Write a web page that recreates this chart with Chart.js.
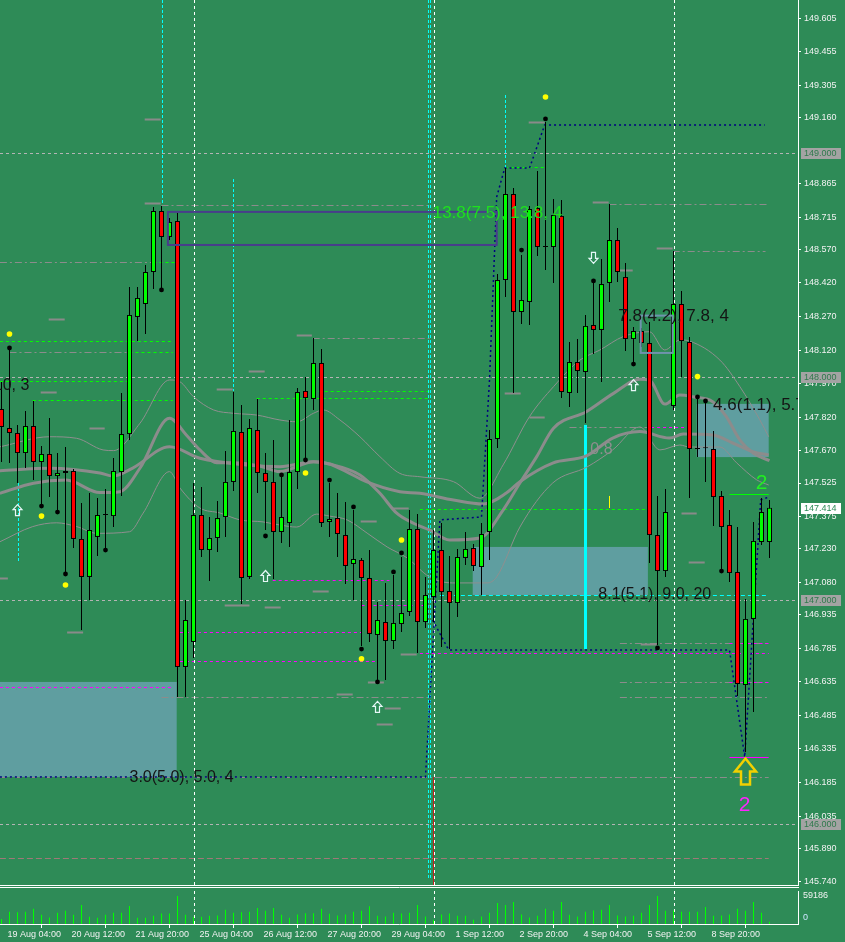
<!DOCTYPE html>
<html lang="en">
<head>
  <meta charset="UTF-8" />
  <title>H4 price chart</title>
  <script src="https://cdn.jsdelivr.net/npm/chart.js"></script>
  <style>
    body {
      margin: 0;
      background: #2e8b57;
      width: 845px;
      height: 942px;
      overflow: hidden;
      position: relative;
    }
    #pricePane { position: absolute; left: 0; top: 0; width: 845px; height: 888px; }
    #volumePane { position: absolute; left: 0; top: 888px; width: 845px; height: 54px; }
  </style>
</head>
<body>
  <div id="pricePane"><canvas id="priceChart"></canvas></div>
  <div id="volumePane"><canvas id="volumeChart"></canvas></div>

  <script>
    // H4 bars, bar 0 = 19 Aug 00:00, last bar = 10 Sep 00:00
    const opens = [147.856,147.771,147.749,147.659,147.780,147.619,147.655,147.556,147.570,147.579,
      147.275,147.105,147.284,147.382,147.377,147.574,147.744,148.268,148.326,148.469,
      148.742,148.626,148.697,146.702,146.814,147.382,147.225,147.279,147.373,147.530,
      147.753,147.105,147.762,147.570,147.530,147.306,147.346,147.574,147.937,147.901,
      148.062,147.351,147.368,147.292,147.163,147.181,147.100,146.845,146.903,146.818,
      146.894,146.948,147.319,146.903,147.015,147.225,147.042,146.988,147.190,147.234,
      147.149,147.306,147.722,148.433,148.818,148.290,148.335,148.755,148.585,148.581,
      148.720,147.928,148.066,148.022,148.232,148.210,148.420,148.612,148.447,148.169,
      148.205,148.151,147.292,147.131,147.870,148.326,148.156,147.682,147.682,147.677,
      147.467,147.337,147.127,146.621,146.917,147.261,147.261];
    const highs = [147.977,148.120,147.785,147.847,147.892,147.691,147.816,147.659,147.686,147.588,
      147.436,147.480,147.458,147.498,147.637,147.928,148.402,148.402,148.500,148.760,
      148.764,148.711,148.733,147.002,147.525,147.507,147.373,147.444,147.668,147.932,
      147.874,147.811,147.901,147.659,147.717,147.561,147.807,147.950,147.999,148.174,
      148.125,147.525,147.480,147.440,147.404,147.190,147.225,146.993,147.078,147.113,
      147.194,147.404,147.386,147.105,147.315,147.346,147.199,147.230,147.306,147.252,
      147.346,147.762,148.460,148.934,148.845,148.545,148.764,148.921,149.140,148.796,
      148.791,148.156,148.169,148.277,148.420,148.527,148.773,148.666,148.509,148.223,
      148.219,148.245,147.467,147.498,148.563,148.384,148.178,147.901,147.883,147.758,
      147.489,147.404,147.328,147.006,147.351,147.458,147.449];
    const lows = [147.619,147.615,147.525,147.592,147.539,147.427,147.462,147.404,147.127,147.234,
      146.867,147.002,147.199,147.234,147.328,147.467,147.717,148.160,148.192,148.393,
      148.398,148.612,146.568,146.568,146.742,147.194,147.087,147.216,147.284,147.489,
      146.984,147.096,147.480,147.315,147.096,147.257,147.239,147.498,147.637,147.852,
      147.328,147.284,147.194,147.073,147.002,146.796,146.814,146.644,146.644,146.782,
      146.858,146.930,146.765,146.876,146.903,146.791,146.782,146.926,147.158,147.131,
      147.024,147.181,147.682,148.357,147.928,148.236,148.232,148.541,148.478,148.420,
      147.905,147.865,147.928,147.794,148.102,147.977,148.335,148.424,148.116,148.066,
      148.134,147.167,146.800,147.105,147.852,147.999,147.458,147.641,147.530,147.333,
      147.136,147.082,146.572,146.322,146.501,147.248,147.190];
    const closes = [147.776,147.749,147.659,147.780,147.619,147.655,147.556,147.570,147.579,147.275,
      147.105,147.315,147.382,147.386,147.579,147.744,148.277,148.353,148.469,148.742,
      148.626,148.693,146.702,146.912,147.382,147.225,147.279,147.368,147.530,147.758,
      147.100,147.771,147.570,147.530,147.306,147.373,147.574,147.932,147.905,148.062,
      147.346,147.364,147.297,147.154,147.185,147.100,146.850,146.912,146.818,146.899,
      146.943,147.319,146.903,147.024,147.225,147.037,146.988,147.194,147.230,147.154,
      147.297,147.722,148.433,148.818,148.290,148.344,148.751,148.581,148.581,148.724,
      147.932,148.066,148.026,148.228,148.210,148.415,148.612,148.469,148.169,148.205,
      148.151,147.292,147.131,147.395,148.326,148.160,147.677,147.677,147.680,147.462,
      147.328,147.122,146.626,146.917,147.266,147.395,147.414];
    const volumes = [10400,25800,25000,25800,32000,19500,14000,23700,27800,19500,
      40400,15300,13200,19500,23700,23700,38300,13200,13200,17400,
      22300,22300,59186,19500,15300,15300,17400,18100,30000,23700,
      25000,25800,34000,27800,34000,19500,13200,20200,23000,23000,
      32000,21600,18100,20200,25800,27800,37600,17400,16000,23700,
      22300,23700,40400,16000,9000,20200,22300,17400,17400,9000,
      16000,23700,44600,40400,46700,20200,14000,17400,32000,27800,
      46700,19500,16000,25800,28500,30000,40400,18100,16000,17400,
      23700,40400,59000,27800,28500,25800,25800,25800,36200,17400,
      18100,20200,32000,27800,46700,23700,4900];

    const timeLabels = ["19 Aug 04:00","20 Aug 12:00","21 Aug 20:00","25 Aug 04:00","26 Aug 12:00","27 Aug 20:00",
      "29 Aug 04:00","1 Sep 12:00","2 Sep 20:00","4 Sep 04:00","5 Sep 12:00","8 Sep 20:00"];
    const labelBars = [1,9,17,25,33,41,49,57,65,73,81,89];
    const separatorBars = [24,54,84];
    const priceTicks = [149.605,149.455,149.305,149.160,148.865,148.715,148.570,148.420,148.270,148.120,
      147.970,147.820,147.670,147.525,147.375,147.230,147.080,146.935,146.785,146.635,
      146.485,146.335,146.185,146.035,145.890,145.740];
    const roundLevels = [149.000,148.000,147.000,146.000];
    const volumeTick = 59186;

    // moving averages / envelope, read at points along the curves
    const maSlow = [{x:-0.2,y:147.580},{x:6.0,y:147.591},{x:12.3,y:147.570},{x:13.9,y:147.556},{x:16.4,y:147.592},
      {x:21.0,y:147.687},{x:24.8,y:147.636},{x:30.6,y:147.606},{x:34.8,y:147.598},{x:39.0,y:147.620},
      {x:41.0,y:147.610},{x:43.1,y:147.576},{x:45.6,y:147.531},{x:49.8,y:147.486},{x:52.3,y:147.479},
      {x:56.5,y:147.449},{x:60.2,y:147.431},{x:63.1,y:147.480},{x:64.8,y:147.531},{x:68.9,y:147.614},
      {x:73.1,y:147.646},{x:76.4,y:147.726},{x:79.8,y:147.755},{x:83.5,y:147.726},{x:85.2,y:147.744},
      {x:88.9,y:147.740},{x:91.4,y:147.704},{x:93.9,y:147.665},{x:95.9,y:147.650}];
    const maFast = [{x:-0.2,y:147.479},{x:4.0,y:147.524},{x:8.1,y:147.538},{x:12.3,y:147.482},{x:14.8,y:147.486},
      {x:17.3,y:147.591},{x:21.0,y:147.815},{x:23.1,y:147.740},{x:24.8,y:147.673},{x:26.9,y:147.616},
      {x:29.0,y:147.616},{x:32.3,y:147.601},{x:34.8,y:147.576},{x:39.0,y:147.620},{x:41.0,y:147.610},
      {x:44.8,y:147.561},{x:47.3,y:147.479},{x:49.4,y:147.390},{x:51.5,y:147.345},{x:53.5,y:147.315},
      {x:56.0,y:147.270},{x:59.8,y:147.279},{x:62.7,y:147.404},{x:64.8,y:147.525},{x:66.9,y:147.643},
      {x:69.0,y:147.770},{x:73.1,y:147.844},{x:76.5,y:147.926},{x:79.8,y:147.989},{x:81.0,y:147.986},
      {x:82.9,y:147.878},{x:84.8,y:147.919},{x:86.4,y:147.911},{x:88.9,y:147.889},{x:90.6,y:147.822},
      {x:92.3,y:147.717},{x:94.0,y:147.658},{x:96.0,y:147.625}];
    const bandUpper = [{x:-0.2,y:147.687},{x:6.0,y:147.732},{x:9.4,y:147.725},{x:12.7,y:147.673},{x:14.0,y:147.670},
      {x:17.3,y:147.792},{x:21.0,y:147.986},{x:22.3,y:147.978},{x:24.0,y:147.911},{x:26.5,y:147.852},
      {x:29.0,y:147.837},{x:31.9,y:147.829},{x:34.8,y:147.807},{x:36.9,y:147.799},{x:39.0,y:147.837},
      {x:40.2,y:147.852},{x:42.3,y:147.807},{x:44.8,y:147.732},{x:47.3,y:147.643},{x:49.8,y:147.568},
      {x:52.3,y:147.553},{x:56.5,y:147.531},{x:59.8,y:147.457},{x:62.7,y:147.606},{x:66.0,y:147.822},
      {x:69.0,y:147.956},{x:72.3,y:148.075},{x:74.8,y:148.120},{x:77.7,y:148.180},{x:81.0,y:148.202},
      {x:82.9,y:148.120},{x:84.8,y:148.165},{x:86.0,y:148.160},{x:89.8,y:148.075},{x:92.3,y:147.956},
      {x:94.8,y:147.807},{x:95.9,y:147.732}];
    const bandLower = [{x:-0.2,y:147.262},{x:3.9,y:147.330},{x:6.9,y:147.347},{x:9.4,y:147.330},{x:11.9,y:147.300},
      {x:16.0,y:147.307},{x:17.7,y:147.390},{x:21.0,y:147.576},{x:22.3,y:147.503},{x:24.8,y:147.413},
      {x:27.3,y:147.391},{x:29.8,y:147.360},{x:32.7,y:147.351},{x:34.8,y:147.337},{x:36.9,y:147.328},
      {x:39.4,y:147.386},{x:41.0,y:147.377},{x:43.2,y:147.360},{x:45.7,y:147.301},{x:48.2,y:147.239},
      {x:50.7,y:147.190},{x:53.5,y:147.105},{x:56.4,y:147.078},{x:60.7,y:147.078},{x:61.9,y:147.105},
      {x:64.8,y:147.328},{x:68.9,y:147.525},{x:73.2,y:147.597},{x:76.4,y:147.673},{x:79.8,y:147.776},
      {x:82.3,y:147.673},{x:84.8,y:147.695},{x:86.0,y:147.686},{x:89.8,y:147.686},{x:91.9,y:147.615},
      {x:94.4,y:147.539},{x:95.9,y:147.516}];
    const zigzagUp = [{x:-0.2,y:146.210},{x:53.0,y:146.210},{x:54.8,y:147.360},{x:60.0,y:147.373},{x:61.0,y:147.986},
      {x:61.9,y:148.805},{x:62.9,y:148.934},{x:66.0,y:148.934},{x:67.9,y:149.127},{x:95.4,y:149.127}];
    const zigzagDown = [{x:53.9,y:146.912},{x:55.7,y:146.791},{x:56.0,y:146.778},{x:91.0,y:146.778},
      {x:92.9,y:146.299},{x:94.9,y:147.449},{x:95.9,y:147.462}];

    const blackDots = [[1,148.129],[5,147.422],[7,147.395],[8,147.118],[13,147.225],[20,148.389],[33,147.288],
      [35,147.561],[38,147.628],[41,147.538],[44,147.418],[45,146.782],[47,146.635],[49,147.127],[50,147.212],
      [65,148.567],[68,149.154],[74,148.429],[79,148.057],[82,146.787],[87,147.910],[88,147.892],[90,147.131]];
    const yellowDots = [[1,148.192],[5,147.377],[8,147.069],[38,147.570],[45,146.739],[50,147.270],[68,149.252],[87,148.001]];

    // zones and drawn objects: [barFrom, barTo, priceTop, priceBottom]
    const zones = [[-0.2,21.9,146.635,146.210],[58.9,80.8,147.239,147.024],[86.9,95.9,147.879,147.641]];
    const channelFrame = [20.8,61.9,148.738,148.590];
    const pivotFrame = [79.9,83.9,148.274,148.107];
    // horizontal levels: [price, barFrom, barTo]
    const grayLevels = [[148.514,-0.2,19.2],[148.110,1.0,15.7],[148.767,20.0,53.5],[148.175,38.9,53.5],[146.569,20.0,53.5],
      [146.210,-0.2,95.9],[148.772,76.0,95.8],[148.564,83.9,95.5],[147.777,71.0,80.7],[146.636,77.3,95.9],
      [146.566,77.3,95.9],[146.808,77.3,95.9]];
    const brownLevels = [[145.847,-0.2,95.9]];
    const greenLevels = [[148.514,19.0,21.9],[148.160,-0.2,21.4],[148.110,16.0,21.4],[147.981,-0.2,15.7],[147.895,3.9,21.4],
      [147.937,38.9,53.5],[147.905,31.9,53.5],[148.939,62.9,67.9],[147.409,52.3,80.7]];
    const magentaLevels = [[146.612,-0.2,21.4],[147.091,33.9,48.5],[146.858,22.3,45.0],[146.729,22.3,46.9],[146.979,45.0,53.5],
      [146.763,52.3,95.9],[147.777,81.2,86.0],[146.808,91.0,95.9],[146.636,91.0,95.9]];
    const cyanLevels = [[147.024,54.8,95.9]];
    const greenMarks = [[147.476,91.0,95.9]];
    const magentaMarks = [[146.299,91.0,95.9]];
    const stubs = [[5.9,7.9,148.259],[4.9,6.9,147.932],[11.0,12.9,147.771],[-0.2,0.8,147.100],[8.2,10.2,146.858],
      [36.9,38.8,148.187],[30.9,32.9,148.026],[26.9,28.9,147.946],[44.9,46.9,147.355],[48.9,50.9,147.413],
      [32.9,34.9,146.970],[38.9,40.9,147.042],[41.9,43.9,146.581],[45.8,47.8,146.635],[49.9,51.9,146.760],
      [47.9,49.9,146.518],[46.9,48.9,146.447],[65.9,67.9,149.140],[73.9,75.9,148.782],[62.9,64.9,147.928],
      [66.0,67.9,147.820],[79.9,81.9,146.805],[81.9,83.9,148.576],[77.0,78.9,148.478],[85.0,86.9,147.391],
      [85.9,87.9,147.172],[27.9,31.0,146.979],[17.9,19.9,148.778],[17.9,19.9,149.154]];
    // vertical marks: [bar, priceTop, priceBottom]
    const cyanMarks = [[2,147.525,147.167],[20,149.686,148.769],[28.9,148.885,147.937],[62.9,149.261,148.934],
      [53.3,149.686,145.749],[53.6,149.686,145.749]];
    const cyanBar = [72.9,147.785,146.782];
    const redMark = [53.9,146.210,145.727];
    const yellowMark = [75.95,147.467,147.413];

    const greenNotes = [["13.8(7.5), 13.8, 4",53.9,148.733]];
    const bigNotes = [["7.8(4.2), 7.8, 4",77.1,148.269],["4.6(1.1), 5.7",88.95,147.874]];
    const smallNotes = [["8.1(5.1), 9.0, 20",74.6,147.024],["3.0(5.0), 5.0, 4",16.0,146.209],["10, 3",-0.96,147.960]];
    const grayNotes = [["0.8",73.6,147.673]];
    const countGreen = ["2",95.0,147.525];
    const countMagenta = ["2",92.9,146.084];
    const upArrows = [[2,147.404],[33,147.109],[47,146.523],[79,147.963]];
    const downArrows = [[74,148.532]];
    const bigArrow = [93.0,146.234];

    const xMin = -0.1875, xMax = 99.5625;
    const yMin = 145.7265, yMax = 149.686;
    const FONT = '"Liberation Sans", Arial, sans-serif';
    Chart.defaults.font.family = FONT;

    function noPadding(s) {
      s.paddingTop = 0;
      s.paddingBottom = 0;
      s.paddingLeft = 0;
      s.paddingRight = 0;
    }

    function hLines(ctx, x, y, list, color, dash, width) {
      ctx.strokeStyle = color;
      ctx.lineWidth = width || 1;
      ctx.setLineDash(dash);
      list.forEach(([p, k1, k2]) => {
        const yy = Math.round(y.getPixelForValue(p)) + 0.5;
        ctx.beginPath();
        ctx.moveTo(x.getPixelForValue(k1), yy);
        ctx.lineTo(x.getPixelForValue(k2), yy);
        ctx.stroke();
      });
    }

    function vLines(ctx, x, y, list, color, dash, width) {
      ctx.strokeStyle = color;
      ctx.lineWidth = width || 1;
      ctx.setLineDash(dash);
      list.forEach(([k, p1, p2]) => {
        const xx = Math.round(x.getPixelForValue(k)) + 0.5;
        ctx.beginPath();
        ctx.moveTo(xx, y.getPixelForValue(p1));
        ctx.lineTo(xx, y.getPixelForValue(p2));
        ctx.stroke();
      });
    }

    function arrowPath(ctx, cx, cy, w, h, headH, shaftW, dir) {
      const top = cy - dir * h / 2;
      ctx.beginPath();
      ctx.moveTo(cx, top);
      ctx.lineTo(cx + w / 2, top + dir * headH);
      ctx.lineTo(cx + shaftW / 2, top + dir * headH);
      ctx.lineTo(cx + shaftW / 2, top + dir * h);
      ctx.lineTo(cx - shaftW / 2, top + dir * h);
      ctx.lineTo(cx - shaftW / 2, top + dir * headH);
      ctx.lineTo(cx - w / 2, top + dir * headH);
      ctx.closePath();
      ctx.stroke();
    }

    function notes(ctx, x, y, list, color, size, align) {
      ctx.fillStyle = color;
      ctx.font = size + 'px ' + FONT;
      ctx.textBaseline = 'middle';
      ctx.textAlign = align || 'left';
      list.forEach(([t, k, p]) => ctx.fillText(t, x.getPixelForValue(k), y.getPixelForValue(p)));
    }

    function clipArea(ctx, a) {
      ctx.beginPath();
      ctx.rect(a.left, a.top, a.right - a.left, a.bottom - a.top);
      ctx.clip();
    }

    const priceOverlay = {
      id: 'priceOverlay',
      beforeDatasetsDraw(chart) {
        const { ctx, chartArea: a, scales: { x, y } } = chart;
        ctx.save();
        clipArea(ctx, a);
        ctx.fillStyle = '#5f9ea0';
        zones.forEach(([k1, k2, p1, p2]) => {
          const x1 = x.getPixelForValue(k1), y1 = y.getPixelForValue(p1);
          ctx.fillRect(x1, y1, x.getPixelForValue(k2) - x1, y.getPixelForValue(p2) - y1);
        });
        hLines(ctx, x, y, roundLevels.map(p => [p, xMin, xMax]), '#b4b4b4', [3, 3]);
        hLines(ctx, x, y, grayLevels, '#8c8c8c', [7, 3, 2, 3]);
        hLines(ctx, x, y, brownLevels, '#a07878', [6, 3]);
        hLines(ctx, x, y, greenLevels, '#00ff00', [3, 3]);
        hLines(ctx, x, y, magentaLevels, '#ff00ff', [3, 3]);
        hLines(ctx, x, y, cyanLevels, '#00ffff', [4, 3]);
        hLines(ctx, x, y, stubs.map(([k1, k2, p]) => [p, k1, k2]), '#8a8a8a', [], 2);
        vLines(ctx, x, y, separatorBars.map(k => [k, yMax, yMin]), '#ffffff', [3, 3]);
        vLines(ctx, x, y, cyanMarks, '#00ffff', [3, 2]);
        vLines(ctx, x, y, [redMark], '#c02020', []);
        vLines(ctx, x, y, [cyanBar], '#00ffff', [], 3);
        vLines(ctx, x, y, [yellowMark], '#ffff00', [], 1);
        ctx.restore();
      },
      afterDatasetsDraw(chart) {
        const { ctx, chartArea: a, scales: { x, y } } = chart;
        ctx.save();
        clipArea(ctx, a);
        ctx.setLineDash([]);
        ctx.lineWidth = 2;
        ctx.strokeStyle = '#483d8b';
        let [k1, k2, p1, p2] = channelFrame;
        ctx.strokeRect(x.getPixelForValue(k1), y.getPixelForValue(p1),
          x.getPixelForValue(k2) - x.getPixelForValue(k1), y.getPixelForValue(p2) - y.getPixelForValue(p1));
        ctx.strokeStyle = '#6f93ad';
        [k1, k2, p1, p2] = pivotFrame;
        ctx.strokeRect(x.getPixelForValue(k1), y.getPixelForValue(p1),
          x.getPixelForValue(k2) - x.getPixelForValue(k1), y.getPixelForValue(p2) - y.getPixelForValue(p1));
        hLines(ctx, x, y, greenMarks, '#00ff00', [], 1);
        hLines(ctx, x, y, magentaMarks, '#ff00ff', [], 1);

        ctx.setLineDash([]);
        ctx.strokeStyle = '#e6f7f7';
        ctx.lineWidth = 1.2;
        upArrows.forEach(([k, p]) => arrowPath(ctx, x.getPixelForValue(k), y.getPixelForValue(p), 9, 11, 5, 4, 1));
        downArrows.forEach(([k, p]) => arrowPath(ctx, x.getPixelForValue(k), y.getPixelForValue(p), 9, 11, 5, 4, -1));
        ctx.strokeStyle = '#f2d000';
        ctx.lineWidth = 2.5;
        arrowPath(ctx, x.getPixelForValue(bigArrow[0]), y.getPixelForValue(bigArrow[1]), 21, 26, 13, 9, 1);

        notes(ctx, x, y, greenNotes, '#1ee01e', 17);
        notes(ctx, x, y, bigNotes, '#141414', 17);
        notes(ctx, x, y, smallNotes, '#141414', 16);
        notes(ctx, x, y, grayNotes, '#8e8e8e', 16);
        notes(ctx, x, y, [countGreen], '#22ee22', 21, 'center');
        notes(ctx, x, y, [countMagenta], '#ff22ff', 21, 'center');
        ctx.restore();
      },
      afterDraw(chart) {
        const { ctx, chartArea: a, scales: { y } } = chart;
        ctx.save();
        ctx.strokeStyle = '#ffffff';
        ctx.lineWidth = 1;
        ctx.beginPath();
        ctx.moveTo(0, a.bottom + 0.5); ctx.lineTo(a.right, a.bottom + 0.5);
        ctx.moveTo(0, a.bottom + 2.5); ctx.lineTo(a.right + 1, a.bottom + 2.5);
        ctx.stroke();
        ctx.font = '9px ' + FONT;
        ctx.textBaseline = 'middle';
        ctx.textAlign = 'left';
        const box = (v, bg, fg) => {
          const yy = Math.round(y.getPixelForValue(v));
          ctx.fillStyle = bg;
          ctx.fillRect(a.right + 3, yy - 5, 40, 11);
          ctx.fillStyle = fg;
          ctx.fillText(v.toFixed(3), a.right + 6, yy + 0.5);
        };
        roundLevels.forEach(v => box(v, '#a3a3a3', '#2f7a4c'));
        box(closes[closes.length - 1], '#ffffff', '#2e8b57');
        ctx.restore();
      }
    };

    const bodyColor = i => {
      if (Math.abs(closes[i] - opens[i]) < 0.006) return '#000000';
      return closes[i] > opens[i] ? '#00ff00' : '#ff0000';
    };

    new Chart(document.getElementById('priceChart'), {
      type: 'bar',
      data: {
        datasets: [
          { type: 'line', data: bandUpper, borderColor: '#8f8f8f', borderWidth: 1, pointRadius: 0, cubicInterpolationMode: 'monotone', order: 10 },
          { type: 'line', data: bandLower, borderColor: '#8f8f8f', borderWidth: 1, pointRadius: 0, cubicInterpolationMode: 'monotone', order: 10 },
          { type: 'line', data: maSlow, borderColor: '#8c8c8c', borderWidth: 3, pointRadius: 0, cubicInterpolationMode: 'monotone', order: 9 },
          { type: 'line', data: maFast, borderColor: '#8c8c8c', borderWidth: 3, pointRadius: 0, cubicInterpolationMode: 'monotone', order: 9 },
          { type: 'line', data: zigzagUp, borderColor: '#000080', borderWidth: 1.5, borderDash: [2, 3], pointRadius: 0, tension: 0, order: 8 },
          { type: 'line', data: zigzagDown, borderColor: '#000080', borderWidth: 1.5, borderDash: [2, 3], pointRadius: 0, tension: 0, order: 8 },
          {
            label: 'wick',
            data: highs.map((h, i) => ({ x: i, y: [lows[i], h] })),
            backgroundColor: '#000000',
            barThickness: 1,
            grouped: false,
            inflateAmount: 0,
            order: 3
          },
          {
            label: 'body',
            data: opens.map((o, i) => ({ x: i, y: [Math.min(o, closes[i]), Math.max(o, closes[i])] })),
            backgroundColor: ctx => bodyColor(ctx.dataIndex),
            borderColor: '#000000',
            borderWidth: 1,
            borderSkipped: false,
            barThickness: 5,
            minBarLength: 1,
            grouped: false,
            inflateAmount: 0,
            order: 2
          },
          { type: 'line', data: blackDots.map(([k, p]) => ({ x: k, y: p })), showLine: false, pointRadius: 2.4, pointBorderWidth: 0, pointBackgroundColor: '#000000', order: 1 },
          { type: 'line', data: yellowDots.map(([k, p]) => ({ x: k, y: p })), showLine: false, pointRadius: 2.8, pointBorderWidth: 0, pointBackgroundColor: '#ffff00', order: 1 }
        ]
      },
      options: {
        responsive: true,
        maintainAspectRatio: false,
        animation: false,
        layout: { autoPadding: false, padding: { left: 0, right: 0, top: 0, bottom: 3 } },
        plugins: { legend: { display: false }, tooltip: { enabled: false } },
        scales: {
          x: {
            type: 'linear', min: xMin, max: xMax, offset: false,
            display: true,
            afterFit: s => { s.height = 0; noPadding(s); },
            border: { display: false },
            grid: { display: false },
            ticks: { display: false }
          },
          y: {
            type: 'linear',
            position: 'right',
            min: yMin,
            max: yMax,
            afterBuildTicks: s => { s.ticks = priceTicks.map(v => ({ value: v })); },
            afterFit: s => { s.width = 47; noPadding(s); },
            border: { display: true, color: '#ffffff', width: 1 },
            grid: { drawOnChartArea: false, drawTicks: true, tickLength: 3, tickColor: '#ffffff' },
            ticks: { autoSkip: false, color: '#f2f2f2', padding: 3, font: { size: 9 }, callback: v => v.toFixed(3) }
          }
        }
      },
      plugins: [priceOverlay]
    });

    const volumeOverlay = {
      id: 'volumeOverlay',
      beforeDatasetsDraw(chart) {
        const { ctx, chartArea: a, scales: { x } } = chart;
        ctx.save();
        ctx.strokeStyle = '#ffffff';
        ctx.setLineDash([3, 3]);
        separatorBars.forEach(k => {
          const xx = Math.round(x.getPixelForValue(k)) + 0.5;
          ctx.beginPath();
          ctx.moveTo(xx, a.top);
          ctx.lineTo(xx, a.bottom);
          ctx.stroke();
        });
        ctx.restore();
      },
      afterDraw(chart) {
        const { ctx, chartArea: a, scales: { y } } = chart;
        ctx.save();
        ctx.font = '9px ' + FONT;
        ctx.textBaseline = 'middle';
        ctx.fillStyle = '#f2f2f2';
        ctx.fillText(String(volumeTick), a.right + 5, y.getPixelForValue(volumeTick) - 1);
        ctx.fillStyle = '#cfe6ff';
        ctx.fillText('0', a.right + 5, y.getPixelForValue(0) - 6);
        ctx.restore();
      }
    };

    new Chart(document.getElementById('volumeChart'), {
      type: 'bar',
      data: {
        datasets: [{
          data: volumes.map((v, i) => ({ x: i, y: v })),
          backgroundColor: '#00ff00',
          barThickness: 1,
          grouped: false,
          inflateAmount: 0
        }]
      },
      options: {
        responsive: true,
        maintainAspectRatio: false,
        animation: false,
        layout: { autoPadding: false, padding: { left: 0, right: 0, top: 3, bottom: 0 } },
        plugins: { legend: { display: false }, tooltip: { enabled: false } },
        scales: {
          x: {
            type: 'linear',
            min: xMin,
            max: xMax,
            offset: false,
            afterBuildTicks: s => { s.ticks = labelBars.map(v => ({ value: v })); },
            afterFit: s => { s.height = 18; noPadding(s); },
            border: { display: true, color: '#ffffff' },
            grid: { drawOnChartArea: false, tickLength: 4, tickColor: '#ffffff' },
            ticks: {
              autoSkip: false,
              maxRotation: 0,
              align: 'start',
              labelOffset: -2,
              padding: 1,
              color: '#f2f2f2',
              font: { size: 9 },
              callback: v => timeLabels[labelBars.indexOf(v)]
            }
          },
          y: {
            position: 'right',
            min: 0,
            max: 69800,
            afterFit: s => { s.width = 47; noPadding(s); },
            border: { display: true, color: '#ffffff' },
            grid: { display: false },
            ticks: { display: false }
          }
        }
      },
      plugins: [volumeOverlay]
    });
  </script>
</body>
</html>
